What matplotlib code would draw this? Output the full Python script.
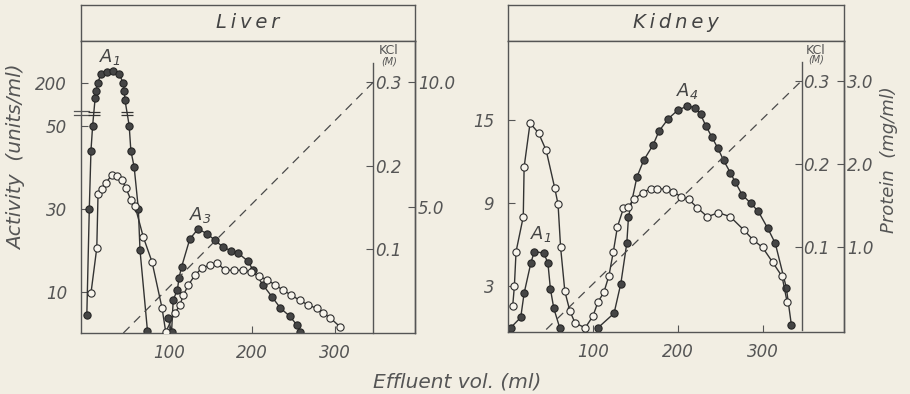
import numpy as np
import matplotlib
matplotlib.use("Agg")
import matplotlib.pyplot as plt
from matplotlib.transforms import offset_copy

# ---- data ----
# liver, activity (filled), peak A1 and peak A3
liver_a1_x = [1, 4, 6, 8, 11, 12, 14, 18, 25, 32, 40, 45, 46, 47, 52, 54, 58, 63, 65, 74]
liver_a1_y = [4.3, 30, 44, 50, 150, 174, 200, 231, 237, 240, 231, 200, 174, 143, 50, 44, 40, 30, 20, 0.5]
liver_a3_x = [99, 103, 105, 110, 112, 115, 125, 135, 146, 155, 165, 175, 183, 195, 201,
              213, 224, 234, 245, 254, 258]
liver_a3_y = [3.6, 0.2, 8.0, 10.4, 13.3, 15.9, 22.7, 25.1, 23.9, 22.4, 20.7, 19.8, 19.3, 17.3, 15.2,
              11.6, 8.7, 6.0, 4.1, 1.9, 0.2]
# liver, protein (open)
liver_prot_x = [6, 13, 14.5, 19, 24, 31, 37, 43, 48, 54, 59, 69, 79.5, 91.5, 96,
                107, 113, 117, 123, 131, 140, 149, 158, 167, 178, 189, 199, 208, 218, 228,
                237, 247, 257, 267, 278, 285, 294, 306]
liver_prot_y = [1.59, 3.39, 5.54, 5.74, 5.98, 6.29, 6.25, 6.1, 5.78, 5.3, 5.06, 3.82, 2.83, 1.0, 0.04,
                0.8, 1.1, 1.5, 1.9, 2.3, 2.6, 2.7, 2.8, 2.5, 2.5, 2.5, 2.43, 2.27, 2.11, 1.91,
                1.71, 1.51, 1.31, 1.12, 0.98, 0.8, 0.6, 0.24]

# kidney, activity (filled), peak A1 and peak A4
kidney_a1_x = [3, 15, 19, 27, 31, 42, 47, 50, 54, 61]
kidney_a1_y = [0, 0.75, 2.5, 4.7, 5.5, 5.4, 4.7, 2.8, 1.4, 0]
kidney_a4_x = [106, 125, 133, 140, 142, 152, 160, 171, 178, 189, 200, 211, 220, 227, 233, 240,
               247, 254, 262, 268, 276, 286, 295, 306, 315, 328, 334]
kidney_a4_y = [0, 1.05, 3.2, 6.1, 8.0, 10.9, 12.1, 13.2, 14.2, 15.1, 15.7, 16.0, 15.9, 15.4, 14.6, 13.8,
               13.0, 12.1, 11.2, 10.5, 9.6, 9.0, 8.4, 7.2, 6.1, 2.9, 0.2]
# kidney, protein (open)
kidney_prot_x = [5.5, 7.5, 9.5, 18, 19, 26, 36, 45, 55, 59, 62, 67, 73, 79, 91,
                 100, 106, 113, 119, 124, 129, 136, 142, 148, 159, 168, 176, 186, 195, 204,
                 213, 223, 235, 248, 262, 278, 289, 300, 312, 323, 329]
kidney_prot_y = [0.28, 0.52, 0.94, 1.36, 1.96, 2.49, 2.37, 2.16, 1.71, 1.51, 0.99, 0.46, 0.22, 0.08, 0.02,
                 0.16, 0.33, 0.45, 0.65, 0.93, 1.24, 1.46, 1.48, 1.57, 1.65, 1.70, 1.70, 1.69, 1.66, 1.60,
                 1.57, 1.47, 1.36, 1.41, 1.36, 1.2, 1.08, 0.99, 0.81, 0.64, 0.33]

# KCl gradient (same for both columns)
kcl_x = [45, 346]
kcl_y = [0, 0.3]

liver_act_ticks = [10, 30, 50, 200]
kidney_act_ticks = [3, 9, 15]
kcl_ticks = [0.1, 0.2, 0.3]
liver_prot_ticks = [5.0, 10.0]
kidney_prot_ticks = [1.0, 2.0, 3.0]
x_ticks = [100, 200, 300]

BG = "#f2eee3"
INK = "#555555"
LINE = "#333333"

plt.rcParams["font.family"] = "DejaVu Sans"
plt.rcParams["font.style"] = "italic"
plt.rcParams["mathtext.fontset"] = "dejavusans"

# broken activity axis of the liver column
BREAK = 53.0
UPPER_START = 100.0
UPPER_K = 0.072


def fwd(v):
    v = np.asarray(v, dtype=float)
    return np.where(v <= BREAK, v, BREAK + np.clip(v - UPPER_START, 0, None) * UPPER_K)


def inv(d):
    d = np.asarray(d, dtype=float)
    return np.where(d <= BREAK, d, UPPER_START + (d - BREAK) / UPPER_K)


fig = plt.figure(figsize=(9.1, 3.94), dpi=100, facecolor=BG)


def px_axes(x0, x1, y0, y1):
    return fig.add_axes([x0 / 910, (394 - y1) / 394, (x1 - x0) / 910, (y1 - y0) / 394])


def ftext(x, y, s, **kw):
    kw.setdefault("color", INK)
    kw.setdefault("ha", "center")
    kw.setdefault("va", "center")
    fig.text(x / 910, 1 - y / 394, s, **kw)


def style_ticks(a, side):
    a.tick_params(axis="both", direction="in", length=5, width=0.8, color=INK,
                  labelcolor=INK, labelsize=12)
    for sp in a.spines.values():
        sp.set_color(INK)
        sp.set_linewidth(1.0)


def filled(a, x, y):
    a.plot(x, y, "-o", color=LINE, lw=1.0, ms=5.2, mfc="#454545", mec="#262626", mew=0.8)


def opened(a, x, y):
    a.plot(x, y, "-o", color=LINE, lw=1.0, ms=5.2, mfc="#f7f4ec", mec="#2e2e2e", mew=0.8)


def header(x0, x1, name):
    h = px_axes(x0, x1, 5, 41)
    h.set_facecolor(BG)
    h.set_xticks([])
    h.set_yticks([])
    for sp in h.spines.values():
        sp.set_color(INK)
        sp.set_linewidth(1.0)
    h.text(0.5, 0.5, "\u2009".join(name), transform=h.transAxes, ha="center", va="center",
           fontsize=14, color="#444444")


def panel(x0, x1, y1, xlim, act_lim, kcl_lim, prot_lim, prot_ticks):
    ax = px_axes(x0, x1, 41, y1)
    ax.set_facecolor(BG)
    ax.set_xlim(*xlim)
    ax.set_xticks(x_ticks)
    style_ticks(ax, "left")
    ax.tick_params(axis="y", pad=10)
    ax.tick_params(axis="x", pad=8)

    axk = ax.twinx()
    axk.set_ylim(*kcl_lim)
    axk.plot(kcl_x, kcl_y, color="#4a4a4a", lw=0.9, ls=(0, (7, 5)))
    for s in ["left", "top", "bottom"]:
        axk.spines[s].set_visible(False)
    axk.spines["right"].set_position(("data", 346))
    axk.spines["right"].set_bounds(0, 0.323)
    axk.set_yticks(kcl_ticks)
    axk.set_yticklabels([f"{t:.1f}" for t in kcl_ticks])
    style_ticks(axk, "right")
    axk.tick_params(axis="y", pad=1)

    axp = ax.twinx()
    axp.set_ylim(*prot_lim)
    for s in ["left", "top", "bottom"]:
        axp.spines[s].set_visible(False)
    axp.set_yticks(prot_ticks)
    axp.set_yticklabels([f"{t:.1f}" for t in prot_ticks])
    style_ticks(axp, "right")
    axp.tick_params(axis="y", pad=2)
    return ax, axk, axp


# ---- Liver ----
header(81, 415, "Liver")
ax, axk, axp = panel(81, 415, 333, (-6, 396), None, (0, 0.349), (0, 11.63), liver_prot_ticks)
ax.set_yscale("function", functions=(fwd, inv))
ax.set_ylim(0, 342)
ax.set_yticks(liver_act_ticks)
ax.set_yticklabels([str(t) for t in liver_act_ticks])
ax.yaxis.set_minor_locator(matplotlib.ticker.NullLocator())
filled(ax, liver_a1_x, liver_a1_y)
filled(ax, liver_a3_x, liver_a3_y)
opened(axp, liver_prot_x, liver_prot_y)

# break marks: on the spine and on both flanks of peak A1
frac = float(fwd(BREAK) / fwd(342))
for dy in (-2, 2):
    ax.plot([-0.02, 0.025], [frac, frac], transform=offset_copy(ax.transAxes, fig, y=dy, units="dots"),
            color=INK, lw=0.9, clip_on=False)
for i in (3, 13):
    bx = 0.5 * (liver_a1_x[i] + liver_a1_x[i + 1])
    for dy in (-1.5, 1.5):
        ax.plot([bx], [BREAK], marker="_", ms=8, mew=0.9, color=LINE,
                transform=offset_copy(ax.transData, fig, y=dy, units="dots"))

ax.text(28, 290, "$A_1$", fontsize=13, color="#444444", ha="center", va="center")
ax.text(137, 28.4, "$A_3$", fontsize=13, color="#444444", ha="center", va="center")
ftext(389, 51, "KCl", fontsize=9, style="normal")
ftext(389, 62, "(M)", fontsize=7)

# ---- Kidney ----
header(508, 844, "Kidney")
ax2, axk2, axp2 = panel(508, 844, 332, (0, 396), None, (-0.003, 0.348), (-0.03, 3.48), kidney_prot_ticks)
ax2.set_ylim(-0.3, 20.7)
ax2.set_yticks(kidney_act_ticks)
filled(ax2, kidney_a1_x, kidney_a1_y)
filled(ax2, kidney_a4_x, kidney_a4_y)
opened(axp2, kidney_prot_x, kidney_prot_y)
ax2.text(39, 6.8, "$A_1$", fontsize=13, color="#444444", ha="center", va="center")
ax2.text(211, 17.1, "$A_4$", fontsize=13, color="#444444", ha="center", va="center")
ftext(816, 50, "KCl", fontsize=9, style="normal")
ftext(816, 60, "(M)", fontsize=7)

# ---- axis titles ----
ftext(17, 157, "Activity  (units/ml)", rotation=90, fontsize=14.5)
ftext(457, 382, "Effluent vol. (ml)", fontsize=14.5)
ftext(889, 160, "Protein  (mg/ml)", rotation=90, fontsize=13)

fig.savefig("out.png", dpi=100, facecolor=BG)
